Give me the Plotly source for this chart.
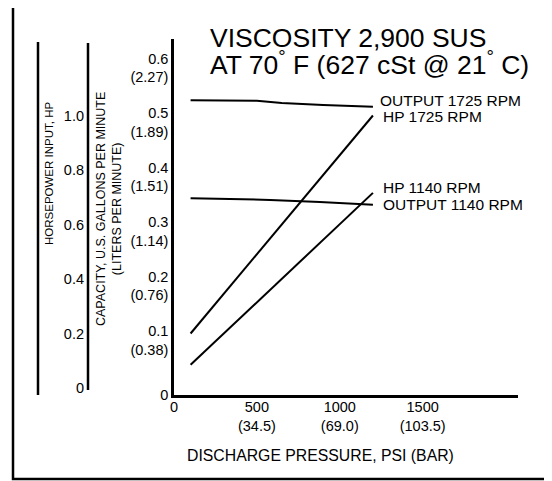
import plotly.graph_objects as go

W, H = 552, 481
OFF = 8  # page body margin in the browser

# ---- data ----
psi_1725_out = [100, 500, 650, 900, 1200]
gpm_1725_out = [0.541, 0.540, 0.536, 0.532, 0.529]
psi_1140_out = [100, 580, 880, 1200]
gpm_1140_out = [0.361, 0.358, 0.354, 0.349]
psi_hp = [100, 1200]
hp_1725 = [0.20, 1.00]
hp_1140 = [0.085, 0.716]

x_tickvals = [0, 500, 1000, 1500]
x_ticktext = ["0", "500<br>(34.5)", "1000<br>(69.0)", "1500<br>(103.5)"]
cap_tickvals = [0, 0.1, 0.2, 0.3, 0.4, 0.5, 0.6]
cap_ticktext = ["0", "0.1<br>(0.38)", "0.2<br>(0.76)", "0.3<br>(1.14)",
                "0.4<br>(1.51)", "0.5<br>(1.89)", "0.6<br>(2.27)"]
hp_tickvals = [0, 0.2, 0.4, 0.6, 0.8, 1.0]
hp_ticktext = ["0", "0.2", "0.4", "0.6", "0.8", "1.0"]

FONT = "Liberation Sans, Arial, Helvetica, sans-serif"
TICK = 14.5


def px(x):
    return (x - OFF) / W


def py(y):
    return 1 - (y - OFF) / H


fig = go.Figure()
line = dict(color="black", width=2)
fig.add_trace(go.Scatter(x=psi_1725_out, y=gpm_1725_out, mode="lines", line=line, name="OUTPUT 1725 RPM"))
fig.add_trace(go.Scatter(x=psi_1140_out, y=gpm_1140_out, mode="lines", line=line, name="OUTPUT 1140 RPM"))
fig.add_trace(go.Scatter(x=psi_hp, y=hp_1725, mode="lines", line=line, yaxis="y2", name="HP 1725 RPM"))
fig.add_trace(go.Scatter(x=psi_hp, y=hp_1140, mode="lines", line=line, yaxis="y2", name="HP 1140 RPM"))

top, bot = 39, 395
fig.update_layout(
    width=W, height=H,
    margin=dict(l=0, r=0, t=0, b=0, autoexpand=False),
    paper_bgcolor="white", plot_bgcolor="white",
    showlegend=False,
    font=dict(family=FONT, color="black", size=14),
    xaxis=dict(domain=[px(174), px(518)], range=[0, 2075], showgrid=False, zeroline=False,
               showline=True, linecolor="black", linewidth=2.5, ticks="",
               tickvals=x_tickvals, ticktext=x_ticktext, tickfont=dict(size=TICK),
               ticklabelstandoff=-3),
    yaxis=dict(domain=[py(bot), py(top)], range=[0, (bot - top) / 545.0], showgrid=False,
               zeroline=False, showline=True, linecolor="black", linewidth=2.5, ticks="",
               tickvals=cap_tickvals, ticktext=cap_ticktext, tickfont=dict(size=TICK)),
    yaxis2=dict(overlaying="y", anchor="free", position=px(88), side="left",
                range=[-7 / 272.5, (388 - top) / 272.5], showgrid=False, zeroline=False,
                showline=False, ticks="", tickvals=hp_tickvals, ticktext=hp_ticktext,
                tickfont=dict(size=TICK), ticklabelstandoff=4),
)

shapes = [
    dict(type="rect", xref="paper", yref="paper", x0=px(13), x1=px(580), y0=py(479), y1=py(3.5),
         line=dict(color="black", width=2.5)),
    dict(type="line", xref="paper", yref="paper", x0=px(38), x1=px(38), y0=py(395), y1=py(42),
         line=dict(color="black", width=2.5)),
    dict(type="line", xref="paper", yref="paper", x0=px(88), x1=px(88), y0=py(390), y1=py(43),
         line=dict(color="black", width=2.5)),
]
fig.update_layout(shapes=shapes)

ann = []


def txt(text, x, y, size, xanchor="left", angle=0):
    ann.append(dict(text=text, x=px(x), y=py(y), xref="paper", yref="paper", showarrow=False,
                    xanchor=xanchor, yanchor="middle", textangle=angle,
                    font=dict(size=size, family=FONT, color="black")))


txt("VISCOSITY 2,900 SUS", 208, 38, 26.5)
txt("AT 70<sup>°</sup> F (627 cSt @ 21<sup>°</sup> C)", 208, 63, 26.5)
txt("OUTPUT 1725 RPM", 378, 100, 15.5)
txt("HP 1725 RPM", 381, 117, 15.5)
txt("HP 1140 RPM", 381, 187, 15.5)
txt("OUTPUT 1140 RPM", 381, 205, 15.5)
txt("DISCHARGE PRESSURE, PSI (BAR)", 320, 455, 15.8, xanchor="center")
txt("HORSEPOWER INPUT, HP", 49, 174, 11.5, xanchor="center", angle=-90)
txt("CAPACITY, U.S. GALLONS PER MINUTE<br>(LITERS PER MINUTE)", 109, 209, 12.5,
    xanchor="center", angle=-90)
fig.update_layout(annotations=ann)

fig.write_html("out.html")
